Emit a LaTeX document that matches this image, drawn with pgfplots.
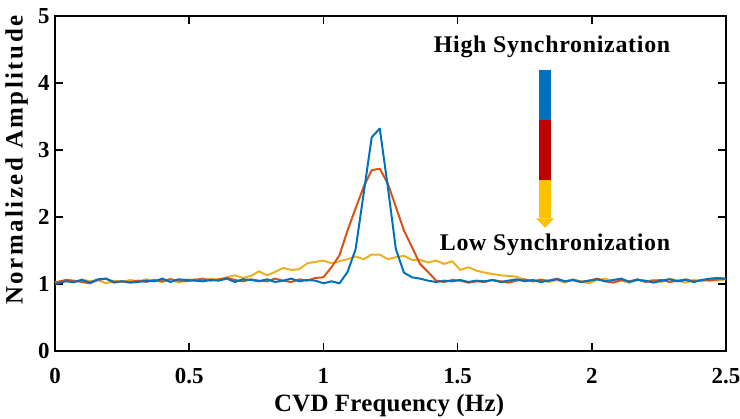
\documentclass[border=0pt]{standalone}
\usepackage{fontspec}
\setmainfont{Liberation Serif}
\usepackage{pgfplots}
\usepackage{pgfplotstable}
\pgfplotsset{compat=1.18}

\definecolor{cBlue}{RGB}{0,114,189}
\definecolor{cOrange}{RGB}{217,83,25}
\definecolor{cYellow}{RGB}{237,177,32}
\definecolor{aBlue}{RGB}{0,112,192}
\definecolor{aRed}{RGB}{192,0,0}
\definecolor{aGold}{RGB}{255,192,0}

% Normalized CVD spectra: high (blue), medium (orange), low (yellow) synchronization
\pgfplotstableread{
f    high  mid   low
0.00 1.00  1.02  1.03
0.04 1.04  1.06  1.05
0.07 1.03  1.05  1.02
0.10 1.06  1.03  1.07
0.13 1.02  1.01  1.04
0.16 1.07  1.06  1.06
0.19 1.08  1.08  1.01
0.22 1.03  1.02  1.05
0.25 1.04  1.04  1.03
0.28 1.02  1.03  1.06
0.31 1.03  1.05  1.04
0.34 1.05  1.03  1.07
0.37 1.04  1.06  1.05
0.40 1.08  1.04  1.03
0.43 1.03  1.07  1.08
0.46 1.07  1.05  1.02
0.49 1.06  1.04  1.06
0.52 1.05  1.06  1.07
0.55 1.04  1.08  1.05
0.58 1.06  1.05  1.08
0.61 1.05  1.07  1.06
0.64 1.08  1.09  1.10
0.67 1.03  1.06  1.13
0.70 1.07  1.04  1.09
0.73 1.06  1.07  1.12
0.76 1.04  1.05  1.19
0.79 1.07  1.04  1.13
0.82 1.03  1.08  1.18
0.85 1.05  1.05  1.24
0.88 1.08  1.03  1.21
0.91 1.04  1.07  1.22
0.94 1.06  1.05  1.31
0.97 1.05  1.09  1.33
1.00 1.01  1.10  1.35
1.03 1.04  1.25  1.31
1.06 1.01  1.43  1.34
1.09 1.18  1.80  1.37
1.12 1.52  2.13  1.41
1.15 2.35  2.45  1.37
1.18 3.19  2.70  1.44
1.21 3.32  2.72  1.44
1.24 2.45  2.50  1.37
1.27 1.52  2.15  1.40
1.30 1.17  1.80  1.42
1.33 1.10  1.55  1.36
1.36 1.08  1.30  1.36
1.39 1.05  1.18  1.32
1.42 1.03  1.05  1.35
1.45 1.05  1.03  1.30
1.48 1.04  1.06  1.34
1.51 1.06  1.05  1.21
1.54 1.03  1.02  1.25
1.57 1.05  1.04  1.20
1.60 1.04  1.03  1.17
1.63 1.06  1.06  1.15
1.66 1.03  1.04  1.13
1.69 1.05  1.02  1.12
1.72 1.07  1.05  1.11
1.75 1.04  1.07  1.06
1.78 1.06  1.04  1.04
1.81 1.03  1.06  1.07
1.84 1.05  1.05  1.03
1.87 1.07  1.08  1.06
1.90 1.04  1.04  1.02
1.93 1.06  1.06  1.07
1.96 1.03  1.03  1.04
1.99 1.05  1.05  1.01
2.02 1.07  1.08  1.06
2.05 1.04  1.04  1.08
2.08 1.06  1.02  1.03
2.11 1.08  1.06  1.05
2.14 1.03  1.04  1.02
2.17 1.06  1.07  1.07
2.20 1.05  1.03  1.04
2.23 1.02  1.05  1.06
2.26 1.05  1.06  1.03
2.29 1.07  1.03  1.08
2.32 1.04  1.05  1.05
2.35 1.06  1.07  1.02
2.38 1.03  1.04  1.06
2.41 1.06  1.06  1.04
2.44 1.08  1.05  1.07
2.47 1.09  1.07  1.05
2.50 1.08  1.08  1.07
}\spectra

\begin{document}
\begin{tikzpicture}
\path[use as bounding box] (0,0) rectangle (740bp,419bp);
\begin{axis}[
  at={(55bp,68bp)}, anchor=south west,
  scale only axis, width=671bp, height=335bp,
  xmin=0, xmax=2.5, ymin=0, ymax=5,
  xtick={0,0.5,1,1.5,2,2.5}, ytick={0,1,2,3,4,5},
  xticklabels={0,0.5,1,1.5,2,2.5},
  tick align=inside, major tick length=8bp,
  axis line style={line width=1.6pt},
  every tick/.style={black, line width=1.6pt},
  /pgf/number format/assume math mode=true,
  tick label style={font=\bfseries\fontsize{23}{23}\selectfont},
  xticklabel style={yshift=-14bp},
  yticklabel style={xshift=-2bp},
  xlabel={\addfontfeatures{LetterSpace=1}CVD Frequency (Hz)},
  ylabel={\addfontfeatures{LetterSpace=10}Normalized Amplitude},
  label style={font=\bfseries\fontsize{25}{25}\selectfont},
  xlabel style={at={(axis description cs:0.498,-0.182)}, anchor=base},
  ylabel style={at={(axis description cs:-0.057,0.57)}, anchor=center},
  clip=false,
]
\addplot[cYellow, line width=2pt, line join=round] table[x=f, y=low] {\spectra};
\addplot[cOrange, line width=2pt, line join=round] table[x=f, y=mid] {\spectra};
\addplot[cBlue, line width=2pt, line join=round] table[x=f, y=high] {\spectra};

% synchronization-level indicator
\fill[aBlue] ([xshift=-6bp]axis cs:1.826,4.19) rectangle ([xshift=6bp]axis cs:1.826,3.45);
\fill[aRed] ([xshift=-6bp]axis cs:1.826,3.45) rectangle ([xshift=6bp]axis cs:1.826,2.55);
\fill[aGold] ([xshift=-6bp]axis cs:1.826,2.55) rectangle ([xshift=6bp]axis cs:1.826,1.98);
\fill[aGold] ([xshift=-9bp]axis cs:1.826,1.98) -- ([xshift=9bp]axis cs:1.826,1.98) -- (axis cs:1.826,1.84) -- cycle;
\node[font=\bfseries\fontsize{24}{24}\selectfont] at (axis cs:1.852,4.54) {\addfontfeatures{LetterSpace=3}High Synchronization};
\node[font=\bfseries\fontsize{24}{24}\selectfont] at (axis cs:1.863,1.58) {\addfontfeatures{LetterSpace=3}Low Synchronization};
\end{axis}
\end{tikzpicture}
\end{document}
